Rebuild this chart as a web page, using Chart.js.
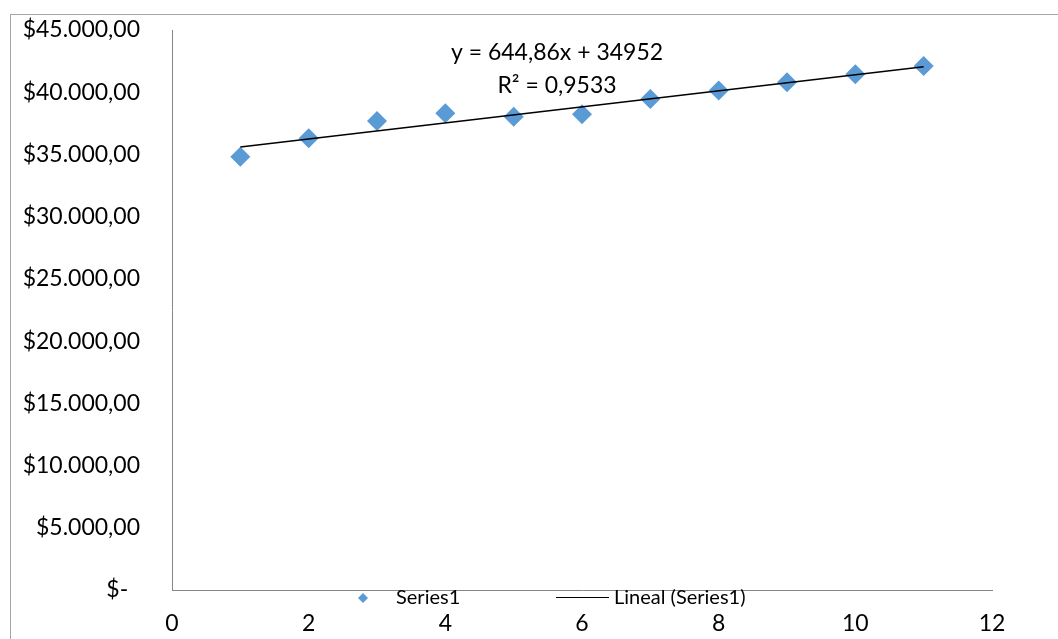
<!DOCTYPE html>
<html>
<head>
<meta charset="utf-8">
<title>Series1 trend</title>
<script src="https://cdn.jsdelivr.net/npm/chart.js@4.4.0/dist/chart.umd.min.js"></script>
<style>
  html, body { margin: 0; padding: 0; background: #ffffff; overflow: hidden; }
  #wrap { position: relative; width: 1058px; height: 639px; }
  #frame { position: absolute; left: 10px; top: 14px; width: 1100px; height: 700px;
           border: 1px solid #a6a6a6; box-sizing: border-box; }
  #c { position: absolute; left: 0; top: 0; }
</style>
</head>
<body>
<div id="wrap">
  <div id="frame"></div>
  <canvas id="c" width="1058" height="639"></canvas>
</div>
<script>
// Observations: period number and amount
const periods = [1, 2, 3, 4, 5, 6, 7, 8, 9, 10, 11];
const amounts = [34820, 36300, 37690, 38310, 38030, 38230, 39460, 40140, 40800, 41440, 42110];

// Linear trend fitted to the series
const trendSlope = 644.86;
const trendIntercept = 34952;
const trendR2 = 0.9533;

const seriesLabel = 'Series1';
const trendLabel = 'Lineal (Series1)';

// Axis ranges
const xMin = 0, xMax = 12, xStep = 2;
const yMin = 0, yMax = 45000, yStep = 5000;

const FONT = 'Lato, "Open Sans", sans-serif';
const POINT_COLOR = '#5B9BD5';
const AXIS_COLOR = '#868686';

function money(v) {
  if (v === 0) return '$-  ';
  const parts = v.toFixed(2).split('.');
  const intPart = parts[0].replace(/\B(?=(\d{3})+(?!\d))/g, '.');
  return '$' + intPart + ',' + parts[1];
}
function decimalComma(v, digits) {
  return v.toFixed(digits).replace('.', ',');
}

const points = periods.map((p, i) => ({ x: p, y: amounts[i] }));
const trendX = [periods[0], periods[periods.length - 1]];
const trendPoints = trendX.map(x => ({ x: x, y: trendSlope * x + trendIntercept }));

const equationLines = [
  'y = ' + decimalComma(trendSlope, 2) + 'x + ' + Math.round(trendIntercept),
  'R\u00B2 = ' + decimalComma(trendR2, 4)
];

// Trendline equation and legend row
const overlay = {
  id: 'overlay',
  afterDraw(chart) {
    const ctx = chart.ctx;
    ctx.save();
    ctx.fillStyle = '#000000';
    ctx.textAlign = 'center';
    ctx.textBaseline = 'middle';
    ctx.font = '23px ' + FONT;
    ctx.fillText(equationLines[0], 557, 53);
    ctx.fillText(equationLines[1], 557, 86);

    // legend
    const ly = 598;
    ctx.font = '20px ' + FONT;
    ctx.textAlign = 'left';
    ctx.fillStyle = POINT_COLOR;
    const r = 5;
    ctx.beginPath();
    ctx.moveTo(363, ly - r);
    ctx.lineTo(363 + r, ly);
    ctx.lineTo(363, ly + r);
    ctx.lineTo(363 - r, ly);
    ctx.closePath();
    ctx.fill();
    ctx.fillStyle = '#000000';
    ctx.fillText(chart.data.datasets[1].label, 396, ly);

    ctx.strokeStyle = '#000000';
    ctx.lineWidth = 1;
    ctx.beginPath();
    ctx.moveTo(556, ly - 0.5);
    ctx.lineTo(609, ly - 0.5);
    ctx.stroke();
    ctx.fillText(chart.data.datasets[0].label, 614, ly);
    ctx.restore();
  }
};

// fixed axis box sizes, no extra edge padding from tick labels
function fixBox(size, horizontal) {
  return function (scale) {
    if (horizontal) scale.height = size; else scale.width = size;
    scale.paddingTop = 0; scale.paddingBottom = 0;
    scale.paddingLeft = 0; scale.paddingRight = 0;
  };
}

new Chart(document.getElementById('c'), {
  type: 'scatter',
  data: {
    datasets: [
      {
        type: 'line',
        label: trendLabel,
        data: trendPoints,
        borderColor: '#000000',
        borderWidth: 1.5,
        pointRadius: 0,
        fill: false,
        order: 0
      },
      {
        label: seriesLabel,
        data: points,
        pointStyle: 'rectRot',
        pointRadius: 10,
        pointHoverRadius: 10,
        backgroundColor: POINT_COLOR,
        borderColor: POINT_COLOR,
        borderWidth: 0,
        order: 1
      }
    ]
  },
  options: {
    responsive: false,
    animation: false,
    events: [],
    layout: { padding: { left: 10, top: 30, right: 66, bottom: 0 } },
    plugins: { legend: { display: false }, tooltip: { enabled: false } },
    scales: {
      x: {
        type: 'linear',
        min: xMin, max: xMax,
        grid: { display: false, drawTicks: false },
        border: { display: true, color: AXIS_COLOR, width: 1 },
        ticks: { stepSize: xStep, color: '#000000', padding: 20, font: { family: FONT, size: 23 } },
        afterFit: fixBox(49, true)
      },
      y: {
        type: 'linear',
        min: yMin, max: yMax,
        grid: { display: false, drawTicks: false },
        border: { display: true, color: AXIS_COLOR, width: 1 },
        ticks: { stepSize: yStep, color: '#000000', padding: 32, font: { family: FONT, size: 23 },
                 callback: v => money(v) },
        afterFit: fixBox(162, false)
      }
    }
  },
  plugins: [overlay]
});
</script>
</body>
</html>
